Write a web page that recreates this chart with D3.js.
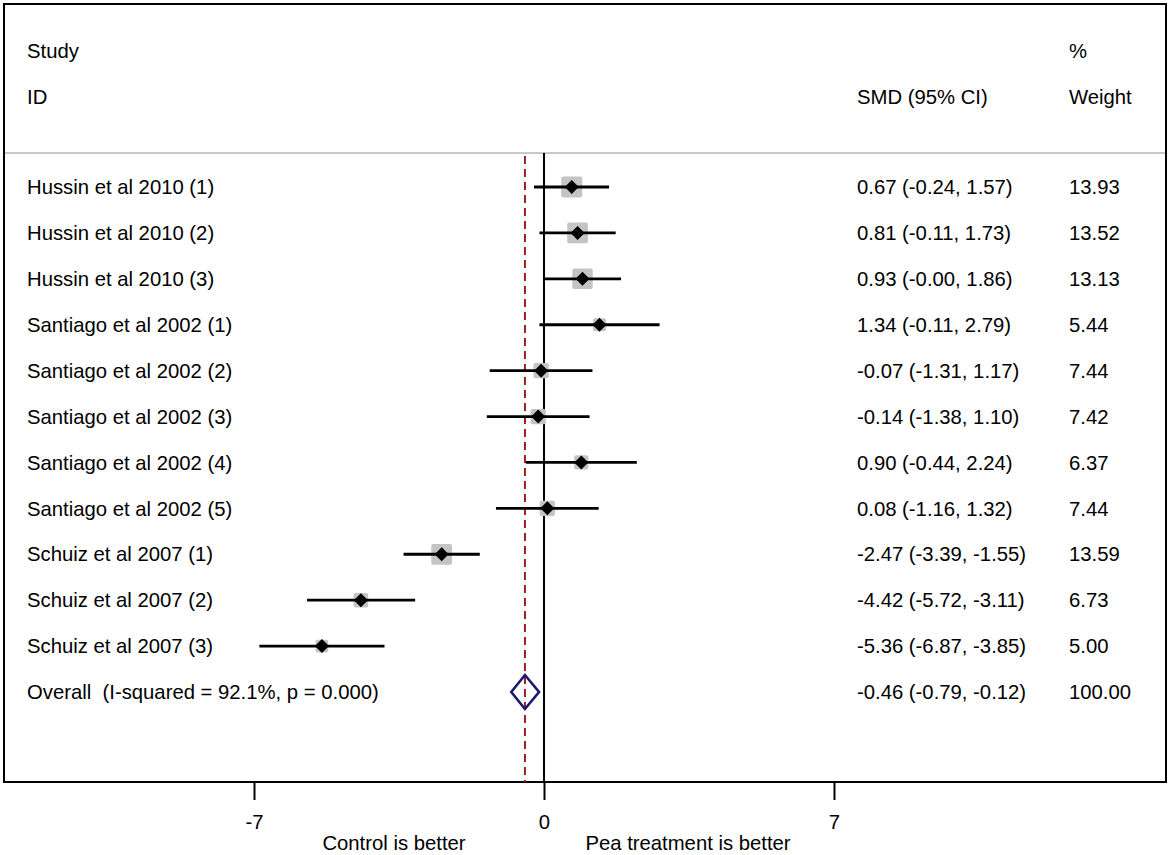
<!DOCTYPE html>
<html>
<head>
<meta charset="utf-8">
<script src="https://cdn.jsdelivr.net/npm/d3@7"></script>
<style>
  body { margin: 0; background: #fff; }
  text { font-family: "Liberation Sans", Arial, sans-serif; font-size: 20.3px; fill: #000; white-space: pre; }
</style>
</head>
<body>
<svg width="1170" height="855"></svg>
<script>
var svg = d3.select("svg");

// study data
var studies = ["Hussin et al 2010 (1)", "Hussin et al 2010 (2)", "Hussin et al 2010 (3)",
  "Santiago et al 2002 (1)", "Santiago et al 2002 (2)", "Santiago et al 2002 (3)",
  "Santiago et al 2002 (4)", "Santiago et al 2002 (5)",
  "Schuiz et al 2007 (1)", "Schuiz et al 2007 (2)", "Schuiz et al 2007 (3)"];
var smd   = [0.67, 0.81, 0.93, 1.34, -0.07, -0.14, 0.90, 0.08, -2.47, -4.42, -5.36];
var lower = [-0.24, -0.11, -0.00, -0.11, -1.31, -1.38, -0.44, -1.16, -3.39, -5.72, -6.87];
var upper = [1.57, 1.73, 1.86, 2.79, 1.17, 1.10, 2.24, 1.32, -1.55, -3.11, -3.85];
var weight = [13.93, 13.52, 13.13, 5.44, 7.44, 7.42, 6.37, 7.44, 13.59, 6.73, 5.00];
// CI text as printed (keeps "-0.00")
var ciLabels = ["0.67 (-0.24, 1.57)", "0.81 (-0.11, 1.73)", "0.93 (-0.00, 1.86)",
  "1.34 (-0.11, 2.79)", "-0.07 (-1.31, 1.17)", "-0.14 (-1.38, 1.10)",
  "0.90 (-0.44, 2.24)", "0.08 (-1.16, 1.32)", "-2.47 (-3.39, -1.55)",
  "-4.42 (-5.72, -3.11)", "-5.36 (-6.87, -3.85)"];

var overallLabel = "Overall  (I-squared = 92.1%, p = 0.000)";
var overall = {est: -0.46, lo: -0.79, hi: -0.12, w: 100.00};
var overallCI = "-0.46 (-0.79, -0.12)";

var xTicks = [-7, 0, 7];

var frame = {left: 4, top: 4, right: 1166, bottom: 782};

var x = d3.scaleLinear().domain([-7, 7]).range([254, 834]);

// rows: studies then overall
var rowIdx = d3.range(studies.length + 1);
var y = d3.scalePoint().domain(rowIdx).range([187, 692]);

var boxSize = d3.scaleSqrt().domain([0, 13.93]).range([0, 21]);

function fmt(v) { return v.toFixed(2); }

var base = 7.2; // baseline offset from row centre

// frame
svg.append("rect")
  .attr("x", frame.left).attr("y", frame.top)
  .attr("width", frame.right - frame.left)
  .attr("height", frame.bottom - frame.top)
  .attr("fill", "none").attr("stroke", "#000").attr("stroke-width", 2);

// header separator
svg.append("line")
  .attr("x1", frame.left + 1).attr("x2", frame.right - 1)
  .attr("y1", 153).attr("y2", 153)
  .attr("stroke", "#c8c8c8").attr("stroke-width", 2);

// headers
var colStudy = 27, colCI = 857, colW = 1069;
svg.append("text").attr("x", colStudy).attr("y", 58).text("Study");
svg.append("text").attr("x", colStudy).attr("y", 104).text("ID");
svg.append("text").attr("x", colW).attr("y", 58).text("%");
svg.append("text").attr("x", colCI).attr("y", 104).text("SMD (95% CI)");
svg.append("text").attr("x", colW).attr("y", 104).text("Weight");

// null line
svg.append("line")
  .attr("x1", x(0)).attr("x2", x(0))
  .attr("y1", 153).attr("y2", frame.bottom)
  .attr("stroke", "#000").attr("stroke-width", 2);

// overall effect dashed line
svg.append("line")
  .attr("x1", x(overall.est)).attr("x2", x(overall.est))
  .attr("y1", 156).attr("y2", frame.bottom)
  .attr("stroke", "#a01c24").attr("stroke-width", 2)
  .attr("stroke-dasharray", "8,5");

// study rows
var rows = svg.append("g").selectAll("g")
  .data(studies.map(function(s, i) { return i; }))
  .join("g");

rows.append("rect")
  .attr("x", function(i) { return x(smd[i]) - boxSize(weight[i]) / 2; })
  .attr("y", function(i) { return y(i) - boxSize(weight[i]) / 2; })
  .attr("width", function(i) { return boxSize(weight[i]); })
  .attr("height", function(i) { return boxSize(weight[i]); })
  .attr("rx", 2)
  .attr("fill", "#c4c4c4");

rows.append("line")
  .attr("x1", function(i) { return x(lower[i]); })
  .attr("x2", function(i) { return x(upper[i]); })
  .attr("y1", function(i) { return y(i); })
  .attr("y2", function(i) { return y(i); })
  .attr("stroke", "#000").attr("stroke-width", 2.8);

rows.append("path")
  .attr("d", function(i) {
    var cx = x(smd[i]), cy = y(i), r = 7;
    return "M" + (cx - r) + "," + cy + "L" + cx + "," + (cy - r) +
      "L" + (cx + r) + "," + cy + "L" + cx + "," + (cy + r) + "Z";
  })
  .attr("fill", "#000");

rows.append("text")
  .attr("x", colStudy).attr("y", function(i) { return y(i) + base; })
  .text(function(i) { return studies[i]; });

rows.append("text")
  .attr("x", colCI).attr("y", function(i) { return y(i) + base; })
  .text(function(i) { return ciLabels[i]; });

rows.append("text")
  .attr("x", colW).attr("y", function(i) { return y(i) + base; })
  .text(function(i) { return fmt(weight[i]); });

// overall row
var oy = y(studies.length);
svg.append("path")
  .attr("d", "M" + x(overall.lo) + "," + oy + "L" + x(overall.est) + "," + (oy - 17) +
    "L" + x(overall.hi) + "," + oy + "L" + x(overall.est) + "," + (oy + 17) + "Z")
  .attr("fill", "none").attr("stroke", "#1a1a6e").attr("stroke-width", 2.6);

svg.append("text").attr("x", colStudy).attr("y", oy + base).text(overallLabel);
svg.append("text").attr("x", colCI).attr("y", oy + base).text(overallCI);
svg.append("text").attr("x", colW).attr("y", oy + base).text(fmt(overall.w));

// x axis
var axis = d3.axisBottom(x).tickValues(xTicks).tickSize(18).tickPadding(15)
  .tickFormat(function(d) { return String(d); });
var ax = svg.append("g")
  .attr("transform", "translate(0," + frame.bottom + ")")
  .call(axis);
ax.select(".domain").remove();
ax.selectAll(".tick line").attr("stroke", "#000").attr("stroke-width", 2);
ax.selectAll(".tick text")
  .style("font-family", "Liberation Sans, Arial, sans-serif")
  .style("font-size", "20.3px").attr("fill", "#000");

// direction labels
svg.append("text").attr("x", 394).attr("y", 850).attr("text-anchor", "middle")
  .text("Control is better");
svg.append("text").attr("x", 688).attr("y", 850).attr("text-anchor", "middle")
  .text("Pea treatment is better");
</script>
</body>
</html>
